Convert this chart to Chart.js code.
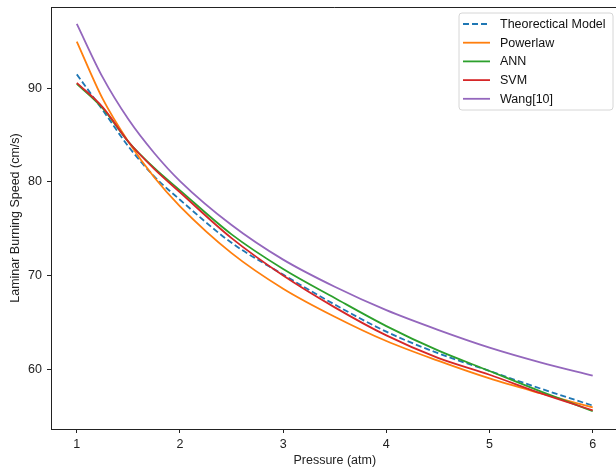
<!DOCTYPE html>
<html>
<head>
<meta charset="utf-8">
<script src="https://cdn.jsdelivr.net/npm/chart.js@4/dist/chart.umd.min.js"></script>
<style>
  html, body { margin:0; padding:0; background:#fff; overflow:hidden; }
  #wrap { width:625px; height:469px; }
</style>
</head>
<body>
<div id="wrap"><canvas id="c" width="625" height="469"></canvas></div>
<script>
const pressure    = [1, 1.25, 1.5, 1.75, 2, 2.5, 3, 3.5, 4, 4.5, 5, 5.5, 6];
const theoretical = [91.5, 87.7, 83.8, 80.6, 78.1, 73.5, 70.1, 66.9, 64.0, 61.7, 59.8, 57.9, 56.1];
const powerlaw    = [95.0, 88.9, 84.3, 80.5, 77.4, 72.4, 68.6, 65.6, 63.0, 60.9, 59.0, 57.4, 55.9];
const ann         = [90.5, 87.9, 84.3, 81.5, 79.1, 74.4, 70.7, 67.6, 64.6, 62.0, 59.8, 57.6, 55.5];
const svm         = [90.6, 88.0, 84.3, 81.4, 78.9, 74.0, 70.0, 66.6, 63.6, 61.2, 59.4, 57.4, 55.6];
const wang        = [96.9, 91.2, 86.7, 83.1, 80.1, 75.4, 71.7, 68.8, 66.3, 64.2, 62.3, 60.7, 59.3];

const seriesNames = ['Theorectical Model', 'Powerlaw', 'ANN', 'SVM', 'Wang[10]'];
const xTicks = [1, 2, 3, 4, 5, 6];
const yTicks = [60, 70, 80, 90];
const xTitle = 'Pressure (atm)';
const yTitle = 'Laminar Burning Speed (cm/s)';

const FONT = '"Liberation Sans", Arial, Helvetica, sans-serif';
const FS = 12.5;
const colors = ['#1f77b4', '#ff7f0e', '#2ca02c', '#d62728', '#9467bd'];
const seriesData = [theoretical, powerlaw, ann, svm, wang];

const datasets = seriesData.map((arr, i) => ({
  label: seriesNames[i],
  data: pressure.map((p, j) => ({x: p, y: arr[j]})),
  borderColor: colors[i],
  backgroundColor: colors[i],
  borderWidth: 1.8,
  borderDash: i === 0 ? [6, 3] : [],
  pointRadius: 0,
  fill: false,
  cubicInterpolationMode: 'monotone',
  order: 5 - i
}));

const framePlugin = {
  id: 'frame',
  afterDraw(chart) {
    const {ctx, chartArea: a} = chart;
    ctx.save();
    ctx.strokeStyle = '#222';
    ctx.lineWidth = 1;
    ctx.beginPath();
    ctx.moveTo(a.left, Math.round(a.top) + 0.5);
    ctx.lineTo(a.right, Math.round(a.top) + 0.5);
    ctx.moveTo(Math.round(a.right) + 0.5, a.top);
    ctx.lineTo(Math.round(a.right) + 0.5, a.bottom);
    ctx.stroke();

    // legend box (matplotlib style)
    const bx = a.left + 408, by = a.top + 6, bw = 154, bh = 97;
    ctx.beginPath();
    const r = 3;
    ctx.moveTo(bx + r, by);
    ctx.lineTo(bx + bw - r, by);
    ctx.quadraticCurveTo(bx + bw, by, bx + bw, by + r);
    ctx.lineTo(bx + bw, by + bh - r);
    ctx.quadraticCurveTo(bx + bw, by + bh, bx + bw - r, by + bh);
    ctx.lineTo(bx + r, by + bh);
    ctx.quadraticCurveTo(bx, by + bh, bx, by + bh - r);
    ctx.lineTo(bx, by + r);
    ctx.quadraticCurveTo(bx, by, bx + r, by);
    ctx.closePath();
    ctx.fillStyle = 'rgba(255,255,255,0.85)';
    ctx.fill();
    ctx.strokeStyle = '#d6d6d6';
    ctx.lineWidth = 1;
    ctx.stroke();

    ctx.font = FS + 'px ' + FONT;
    ctx.textBaseline = 'middle';
    ctx.textAlign = 'left';
    chart.data.datasets.forEach((ds, i) => {
      const y = by + 11 + i * 18.7;
      ctx.beginPath();
      ctx.strokeStyle = ds.borderColor;
      ctx.lineWidth = ds.borderWidth;
      ctx.setLineDash(ds.borderDash || []);
      ctx.moveTo(bx + 4, y);
      ctx.lineTo(bx + 31, y);
      ctx.stroke();
      ctx.setLineDash([]);
      ctx.fillStyle = '#111';
      ctx.fillText(ds.label, bx + 41, y + 0.5);
    });
    ctx.restore();
  }
};

new Chart(document.getElementById('c'), {
  type: 'line',
  data: { datasets },
  plugins: [framePlugin],
  options: {
    responsive: false,
    animation: false,
    layout: { padding: { top: 7, right: 6.5, left: 0, bottom: 0 } },
    plugins: { legend: { display: false }, tooltip: { enabled: false } },
    scales: {
      x: {
        type: 'linear',
        min: 0.75, max: 6.25,
        afterBuildTicks: s => { s.ticks = xTicks.map(v => ({value: v})); },
        afterFit: s => { s.height = 40; s.paddingLeft = 0; s.paddingRight = 0; },
        grid: { drawOnChartArea: false, drawTicks: true, tickLength: 4, color: '#222', tickWidth: 1 },
        border: { display: true, color: '#222', width: 1 },
        ticks: { color: '#222', font: { family: FONT, size: FS }, padding: 4, maxRotation: 0, autoSkip: false },
        title: { display: true, text: xTitle, color: '#222', font: { family: FONT, size: FS }, padding: { top: 0, bottom: 1 } }
      },
      y: {
        type: 'linear',
        min: 53.6, max: 98.7,
        afterBuildTicks: s => { s.ticks = yTicks.map(v => ({value: v})); },
        afterFit: s => { s.width = 51; s.paddingTop = 0; s.paddingBottom = 0; },
        grid: { drawOnChartArea: false, drawTicks: true, tickLength: 4, color: '#222', tickWidth: 1 },
        border: { display: true, color: '#222', width: 1 },
        ticks: { color: '#222', font: { family: FONT, size: FS }, padding: 5, autoSkip: false },
        title: { display: true, text: yTitle, color: '#222', font: { family: FONT, size: FS }, padding: { top: 8, bottom: 0 } }
      }
    }
  }
});
</script>
</body>
</html>
